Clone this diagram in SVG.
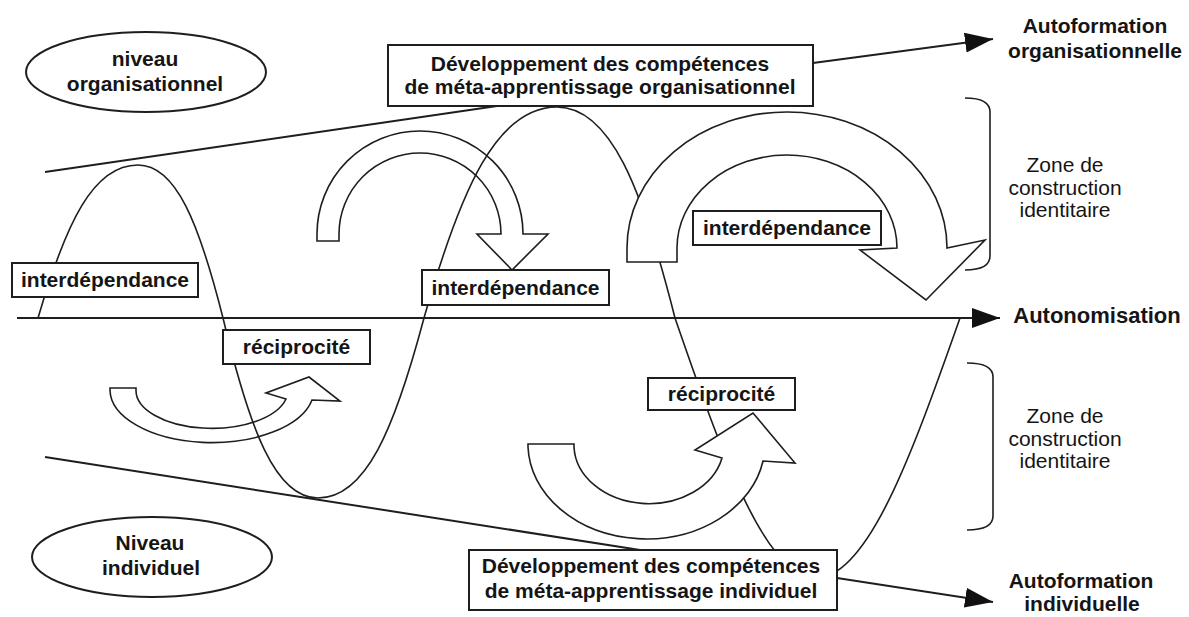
<svg xmlns="http://www.w3.org/2000/svg" width="1189" height="617" viewBox="0 0 1189 617">
<defs>
<style>
.ln{fill:none;stroke:#1e1e1e;stroke-width:1.6}
.env{fill:none;stroke:#1e1e1e;stroke-width:2}
.blk{fill:#fff;stroke:#1e1e1e;stroke-width:1.6;stroke-linejoin:miter}
.box{fill:#fff;stroke:#1e1e1e;stroke-width:2}
.t{font-family:"Liberation Sans",Arial,sans-serif;font-weight:bold;font-size:21px;fill:#151515;text-anchor:middle}
.z{font-family:"Liberation Sans",Arial,sans-serif;font-size:21px;fill:#151515;text-anchor:middle}
.con{fill:none;stroke:#1e1e1e;stroke-width:1.8}
</style>
<marker id="ah" markerUnits="userSpaceOnUse" markerWidth="30" markerHeight="22" refX="28" refY="10" orient="auto">
<path d="M0,0 L28,10 L0,20 Z" fill="#111"/>
</marker>
</defs>
<rect width="1189" height="617" fill="#fff"/>

<g id="envelopes">
<line class="env" x1="45" y1="172" x2="497" y2="106"/>
<line class="env" x1="45" y1="457" x2="640" y2="550"/>
</g>

<g id="arrow-interdep-1">
<path class="blk" d="M317,241 L317,234 A103,103 0 0 1 523,234 L548,234 L512,270 L477,234 L501,234 A81,81 0 0 0 339,234 L339,241 Z"/>
</g>
<g id="arrow-recip-1">
<path class="blk" d="M110,388 L136,388 L136,390 A76,38 0 0 0 286,399 L266,393 L309,377 L340,401 L312,400 A102,53 0 0 1 110,390 Z"/>
</g>

<g id="wave">
<path class="ln" d="M38,318 C66,223 93,165 138,165 C176,165 199,223 223,318 C249.6,429.6 275.3,498 318,498 C365.7,498 394.3,429.6 424,318 C461.2,187.2 497.2,107 557,107 C610.1,107 642,187.2 675,318 C722.1,454.5 765.5,578 816,578 C867.6,578 911.9,454.5 960,318"/>
</g>

<g id="arrow-interdep-2">
<path class="blk" d="M627,262 L627,248 A160,136 0 0 1 947,248 L985,240 L926,300 L860,250 L897,248 A110,93 0 0 0 677,248 L677,262 Z"/>
</g>
<g id="arrow-recip-2">
<path class="blk" d="M528,444 L574,444 L574,447 A75,59 0 0 0 722,458 L695,450 L753,413 L795,463 L763,461 A118.5,95 0 0 1 528,447 Z"/>
</g>

<g id="connectors">
<line class="con" x1="17" y1="318" x2="1000" y2="318" marker-end="url(#ah)"/>
<line class="con" x1="813" y1="63" x2="993" y2="39" marker-end="url(#ah)"/>
<line class="con" x1="837" y1="578" x2="993" y2="602" marker-end="url(#ah)"/>
</g>

<g id="box-meta-org">
<rect class="box" x="388" y="45" width="425" height="61"/>
<text class="t" x="600" y="71">Développement des compétences</text>
<text class="t" x="600" y="94">de méta-apprentissage organisationnel</text>
</g>
<g id="box-meta-ind">
<rect class="box" x="469" y="550" width="368" height="60"/>
<text class="t" x="651" y="573">Développement des compétences</text>
<text class="t" x="651" y="598">de méta-apprentissage individuel</text>
</g>

<g id="label-interdep-1">
<rect class="box" x="12" y="263" width="186" height="34"/>
<text class="t" x="105" y="287">interdépendance</text>
</g>
<g id="label-recip-1">
<rect class="box" x="223" y="330" width="147" height="34"/>
<text class="t" x="296.5" y="354">réciprocité</text>
</g>
<g id="label-interdep-2">
<rect class="box" x="422" y="270" width="187" height="35"/>
<text class="t" x="515.5" y="295">interdépendance</text>
</g>
<g id="label-interdep-3">
<rect class="box" x="693" y="211" width="188" height="34"/>
<text class="t" x="787" y="235">interdépendance</text>
</g>
<g id="label-recip-2">
<rect class="box" x="648" y="378" width="147" height="32"/>
<text class="t" x="721.5" y="401">réciprocité</text>
</g>

<g id="niveau-org">
<ellipse class="box" cx="146" cy="72" rx="120" ry="40"/>
<text class="t" x="145" y="66">niveau</text>
<text class="t" x="145" y="91">organisationnel</text>
</g>
<g id="niveau-ind">
<ellipse class="box" cx="152" cy="557" rx="120" ry="40"/>
<text class="t" x="150" y="550">Niveau</text>
<text class="t" x="151" y="575">individuel</text>
</g>

<g id="autoformation-org">
<text class="t" x="1095" y="33">Autoformation</text>
<text class="t" x="1095" y="58">organisationnelle</text>
</g>
<g id="autonomisation">
<text class="t" x="1097" y="323" style="font-size:22px">Autonomisation</text>
</g>
<g id="autoformation-ind">
<text class="t" x="1081" y="588">Autoformation</text>
<text class="t" x="1082" y="611">individuelle</text>
</g>

<g id="zone-haut">
<path class="ln" d="M965,98 Q990,98 990,112 L990,256 Q990,270 965,270"/>
<text class="z" x="1065" y="172">Zone de</text>
<text class="z" x="1065" y="195">construction</text>
<text class="z" x="1065" y="217">identitaire</text>
</g>
<g id="zone-bas">
<path class="ln" d="M967,363 Q993,363 993,377 L993,516 Q993,530 967,530"/>
<text class="z" x="1065" y="423">Zone de</text>
<text class="z" x="1065" y="446">construction</text>
<text class="z" x="1065" y="468">identitaire</text>
</g>
</svg>
